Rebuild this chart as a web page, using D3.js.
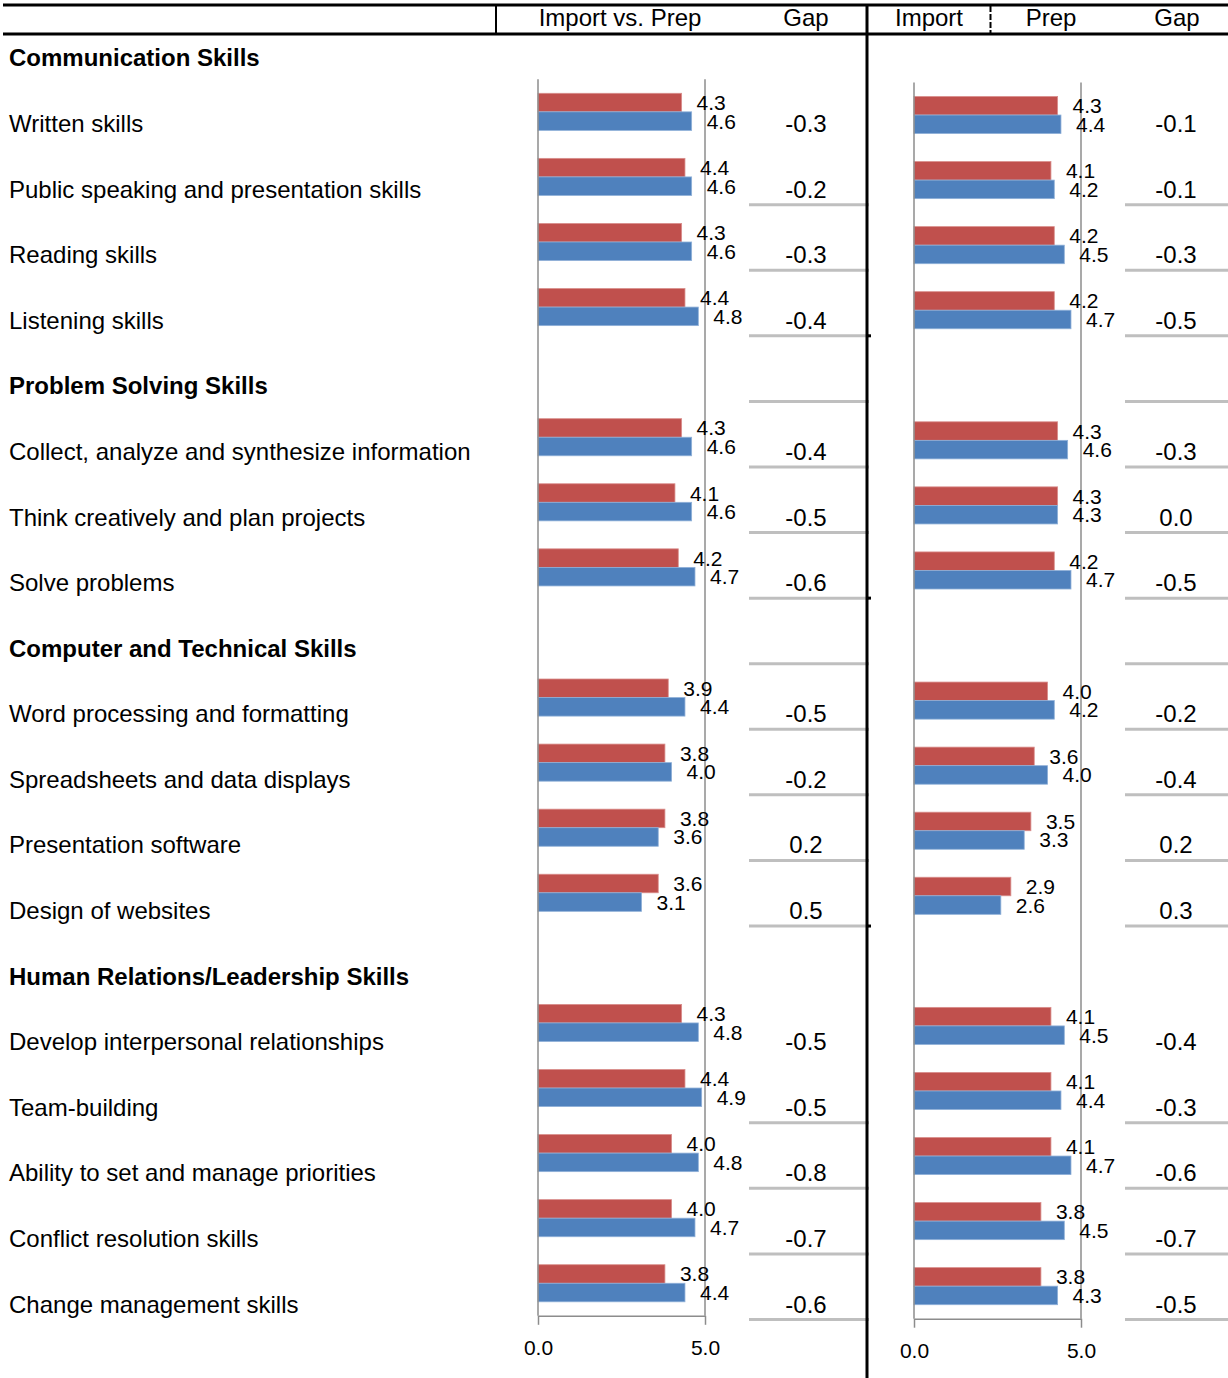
<!DOCTYPE html>
<html>
<head>
<meta charset="utf-8">
<script src="https://cdn.jsdelivr.net/npm/d3@7"></script>
<style>
body { margin: 0; background: #fff; }
text { font-family: "Liberation Sans", Arial, sans-serif; fill: #000; }
</style>
</head>
<body>
<svg id="chart"></svg>
<script>
var canvas_width = 1228;
var canvas_height = 1378;

// table rows, section headers included
var row_labels = [
    "Communication Skills",
    "Written skills",
    "Public speaking and presentation skills",
    "Reading skills",
    "Listening skills",
    "Problem Solving Skills",
    "Collect, analyze and synthesize information",
    "Think creatively and plan projects",
    "Solve problems",
    "Computer and Technical Skills",
    "Word processing and formatting",
    "Spreadsheets and data displays",
    "Presentation software",
    "Design of websites",
    "Human Relations/Leadership Skills",
    "Develop interpersonal relationships",
    "Team-building",
    "Ability to set and manage priorities",
    "Conflict resolution skills",
    "Change management skills"
];
var section_headers = ["Communication Skills", "Problem Solving Skills",
    "Computer and Technical Skills", "Human Relations/Leadership Skills"];
var skills = row_labels.filter(d => section_headers.indexOf(d) < 0);

// left block
var left_import = [4.3, 4.4, 4.3, 4.4, 4.3, 4.1, 4.2, 3.9, 3.8, 3.8, 3.6, 4.3, 4.4, 4.0, 4.0, 3.8];
var left_prep   = [4.6, 4.6, 4.6, 4.8, 4.6, 4.6, 4.7, 4.4, 4.0, 3.6, 3.1, 4.8, 4.9, 4.8, 4.7, 4.4];
var left_gap    = [-0.3, -0.2, -0.3, -0.4, -0.4, -0.5, -0.6, -0.5, -0.2, 0.2, 0.5, -0.5, -0.5, -0.8, -0.7, -0.6];
// right block
var right_import = [4.3, 4.1, 4.2, 4.2, 4.3, 4.3, 4.2, 4.0, 3.6, 3.5, 2.9, 4.1, 4.1, 4.1, 3.8, 3.8];
var right_prep   = [4.4, 4.2, 4.5, 4.7, 4.6, 4.3, 4.7, 4.2, 4.0, 3.3, 2.6, 4.5, 4.4, 4.7, 4.5, 4.3];
var right_gap    = [-0.1, -0.1, -0.3, -0.5, -0.3, 0.0, -0.5, -0.2, -0.4, 0.2, 0.3, -0.4, -0.3, -0.6, -0.7, -0.5];

var tick_values = [0, 5];
var header_labels = ["Import vs. Prep", "Gap", "Import", "Prep", "Gap"];
// rows with no grey rule beneath the gap cell
var no_rule_rows = ["Communication Skills", "Written skills",
    "Human Relations/Leadership Skills", "Develop interpersonal relationships"];
var section_ends = ["Listening skills", "Solve problems", "Design of websites"];

var red = "#C0504D";
var blue = "#4F81BD";
var grid_grey = "#8c8c8c";

// plain hyphen for negatives, like the original
var fmt = d3.formatLocale({decimal: ".", thousands: ",", grouping: [3],
    currency: ["", ""], minus: "-"}).format(".1f");

let svg = d3.select("#chart")
    .attr("width", canvas_width)
    .attr("height", canvas_height);

// row positions of the text table
var row_y = d3.scaleBand().domain(row_labels).range([25.2, 1336.8]);
function row_mid(d){ return row_y(d) + row_y.step() / 2; }

draw_header();
draw_rows();

draw_panel({
    imp: left_import, prep: left_prep, gap: left_gap,
    x0: 538, x1: 705, top: 79.3, bottom: 1315.8, gap_x: 806,
    rule_x1: 749, rule_x2: 869
});
draw_panel({
    imp: right_import, prep: right_prep, gap: right_gap,
    x0: 914, x1: 1081, top: 82.5, bottom: 1318.7, gap_x: 1176,
    rule_x1: 1125, rule_x2: 1228
});

// main divider drawn last so it sits on top
svg.append("line")
    .attr("x1", 867).attr("x2", 867)
    .attr("y1", 4).attr("y2", canvas_height)
    .attr("stroke", "#000").attr("stroke-width", 3);

svg.selectAll(".sec-stub")
    .data(section_ends)
    .join("line")
    .attr("class", "sec-stub")
    .attr("x1", 866).attr("x2", 871)
    .attr("y1", d => row_mid(d) + 15.5)
    .attr("y2", d => row_mid(d) + 15.5)
    .attr("stroke", "#000").attr("stroke-width", 3);

function draw_header(){
    svg.append("line")
        .attr("x1", 3).attr("x2", canvas_width)
        .attr("y1", 5).attr("y2", 5)
        .attr("stroke", "#000").attr("stroke-width", 3);
    svg.append("line")
        .attr("x1", 3).attr("x2", canvas_width)
        .attr("y1", 34).attr("y2", 34)
        .attr("stroke", "#000").attr("stroke-width", 3);
    svg.append("line")
        .attr("x1", 496).attr("x2", 496)
        .attr("y1", 5).attr("y2", 34)
        .attr("stroke", "#000").attr("stroke-width", 2);
    svg.append("line")
        .attr("x1", 990.5).attr("x2", 990.5)
        .attr("y1", 6).attr("y2", 33)
        .attr("stroke", "#000").attr("stroke-width", 2)
        .attr("stroke-dasharray", "6,2");

    let header_x = [620, 806, 929, 1051, 1177];
    svg.selectAll(".col-head")
        .data(header_labels)
        .join("text")
        .attr("class", "col-head")
        .attr("x", (d, i) => header_x[i])
        .attr("y", 26)
        .attr("text-anchor", "middle")
        .style("font-size", "24px")
        .text(d => d);
}

function draw_rows(){
    svg.selectAll(".row-label")
        .data(row_labels)
        .join("text")
        .attr("class", "row-label")
        .attr("x", 9)
        .attr("y", d => row_mid(d) + 8.5)
        .style("font-size", "24px")
        .style("font-weight", d => section_headers.indexOf(d) >= 0 ? "bold" : "normal")
        .text(d => d);
}

function draw_panel(p){
    let g = svg.append("g");
    let cats = row_labels.slice(1);

    let x = d3.scaleLinear().domain([0, 5]).range([p.x0, p.x1]);
    let y = d3.scaleBand().domain(cats).range([p.top, p.bottom])
        .paddingInner(0.43).paddingOuter(0.215);
    let sub = d3.scaleBand().domain(["imp", "prep"]).range([0, y.bandwidth()]);

    let data = skills.map((s, i) => ({
        skill: s, imp: p.imp[i], prep: p.prep[i], gap: p.gap[i]
    }));
    let bars = [];
    data.forEach(d => {
        bars.push({skill: d.skill, key: "imp", v: d.imp});
        bars.push({skill: d.skill, key: "prep", v: d.prep});
    });

    // grid line at 5.0
    g.append("line")
        .attr("x1", x(5)).attr("x2", x(5))
        .attr("y1", p.top).attr("y2", p.bottom)
        .attr("stroke", grid_grey).attr("stroke-width", 1.5);

    g.selectAll(".bar")
        .data(bars)
        .join("rect")
        .attr("class", "bar")
        .attr("x", x(0))
        .attr("y", d => y(d.skill) + sub(d.key))
        .attr("width", d => x(d.v) - x(0))
        .attr("height", sub.bandwidth())
        .attr("fill", d => d.key == "imp" ? red : blue)
        .attr("stroke", d => d.key == "imp" ? "#d98e8c" : "#8fb0d8")
        .attr("stroke-width", 0.8);

    g.selectAll(".val")
        .data(bars)
        .join("text")
        .attr("class", "val")
        .attr("x", d => x(d.v) + 15)
        .attr("y", d => y(d.skill) + sub(d.key) + sub.bandwidth() / 2 + 7.5)
        .style("font-size", "21px")
        .text(d => fmt(d.v));

    // value axis
    let axis = g.append("g")
        .attr("transform", "translate(0," + p.bottom + ")")
        .call(d3.axisBottom(x)
            .tickValues(tick_values)
            .tickFormat(fmt)
            .tickSize(9)
            .tickSizeOuter(0)
            .tickPadding(15));
    axis.select(".domain").attr("stroke", grid_grey).attr("stroke-width", 1.5);
    axis.selectAll(".tick line").attr("stroke", grid_grey).attr("stroke-width", 1.5);
    axis.selectAll(".tick text")
        .style("font-family", "'Liberation Sans', Arial, sans-serif")
        .style("font-size", "21px")
        .attr("fill", "#000");

    // category axis
    g.append("line")
        .attr("x1", x(0)).attr("x2", x(0))
        .attr("y1", p.top).attr("y2", p.bottom)
        .attr("stroke", grid_grey).attr("stroke-width", 1.5);

    // gap column
    g.selectAll(".gap")
        .data(data)
        .join("text")
        .attr("class", "gap")
        .attr("x", p.gap_x)
        .attr("y", d => row_mid(d.skill) + 8.5)
        .attr("text-anchor", "middle")
        .style("font-size", "24px")
        .text(d => fmt(d.gap));

    g.selectAll(".rule")
        .data(row_labels.filter(d => no_rule_rows.indexOf(d) < 0))
        .join("line")
        .attr("class", "rule")
        .attr("x1", p.rule_x1).attr("x2", p.rule_x2)
        .attr("y1", d => row_mid(d) + 15.5)
        .attr("y2", d => row_mid(d) + 15.5)
        .attr("stroke", "#bfbfbf").attr("stroke-width", 3);
}
</script>
</body>
</html>
